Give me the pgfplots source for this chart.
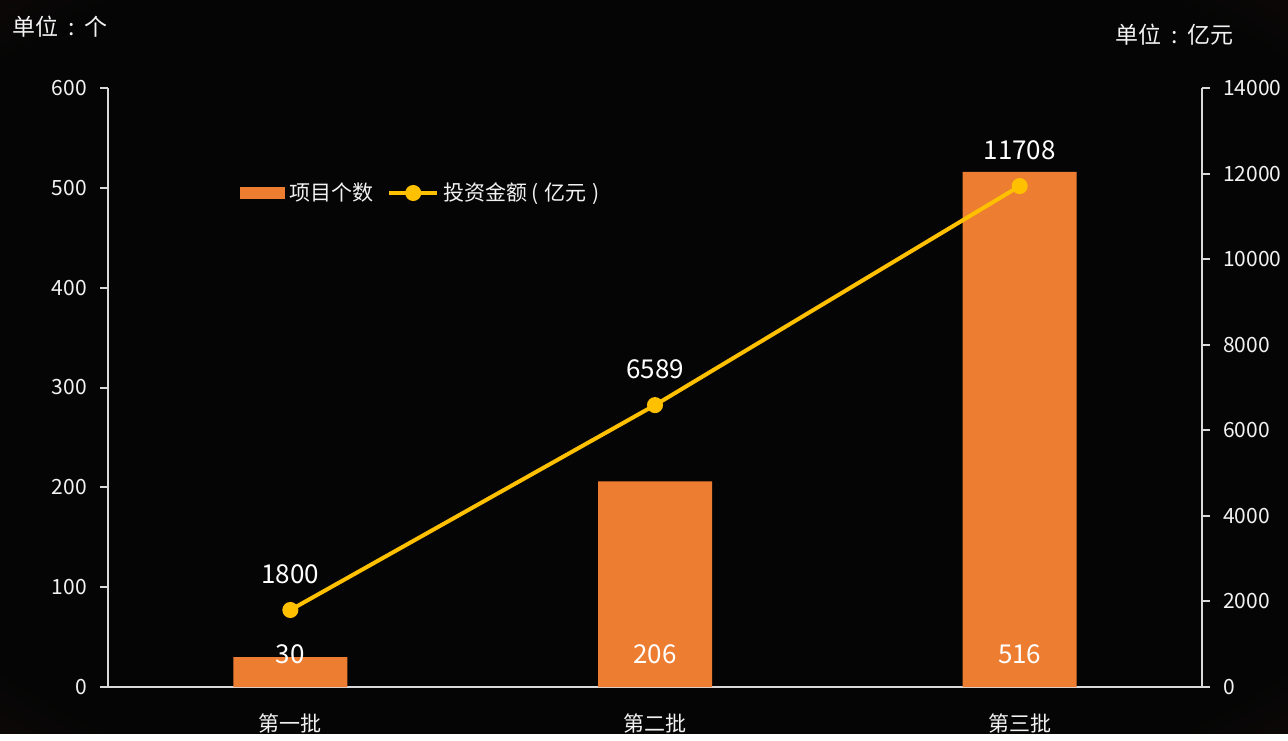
\documentclass[border=0pt]{standalone}
\usepackage{pgfplots}
\pgfplotsset{compat=1.18}
\usepackage{fontspec}
\setmainfont{Noto Sans CJK SC}
\definecolor{barc}{HTML}{ED7D31}
\definecolor{linec}{HTML}{FFC000}
\definecolor{axc}{HTML}{D9D9D9}
\definecolor{txt}{HTML}{F2F2F2}
\definecolor{bgin}{HTML}{050505}
\definecolor{bgout}{HTML}{361914}
\pgfdeclareradialshading{bgshade}{\pgfpoint{0bp}{0bp}}{color(0bp)=(bgin); color(32bp)=(bgin); color(58bp)=(bgout); color(72bp)=(bgout)}

\begin{document}
\begin{tikzpicture}
\shade[shading=bgshade] (0,0) rectangle (644pt,366.5pt);
\node[anchor=west, text=txt, font=\fontsize{11.5}{13}\selectfont, inner sep=0] at (6pt,353pt) {单位\hspace{5pt}:\hspace{5pt}个};
\node[anchor=east, text=txt, font=\fontsize{11.5}{13}\selectfont, inner sep=0] at (617pt,349pt) {单位\hspace{5pt}:\hspace{5pt}亿元};

% bars, left axis
\begin{axis}[
  at={(54pt,23pt)}, anchor=south west,
  scale only axis, width=547pt, height=299.5pt,
  xmin=-0.5, xmax=2.5, ymin=0, ymax=600,
  xtick={0,1,2}, xticklabels={第一批,第二批,第三批},
  ytick={0,100,...,600},
  axis x line*=bottom, axis y line*=left,
  axis line style={axc, line width=1pt, -},
  tick align=outside, major tick length=4pt,
  ytick style={axc, line width=1pt}, xtick style={draw=none},
  tick label style={text=txt, font=\fontsize{10.5}{12}\selectfont},
  /pgf/number format/assume math mode=true,
  yticklabel style={xshift=-3pt}, xticklabel style={yshift=-6pt},
  clip=false,
  ]
  \addplot[ybar, bar width=57pt, fill=barc, draw=none] coordinates {(0,30) (1,206) (2,516)};
  \addplot[draw=none, mark=none, nodes near coords, point meta=explicit symbolic,
    every node near coord/.append style={anchor=center, text=white, font=\fontsize{13}{15}\selectfont}]
    coordinates {(0,33) [30] (1,33) [206] (2,33) [516]};
\end{axis}

% line, right axis
\begin{axis}[
  at={(54pt,23pt)}, anchor=south west,
  scale only axis, width=547pt, height=299.5pt,
  xmin=-0.5, xmax=2.5, ymin=0, ymax=14000,
  ytick={0,2000,...,14000}, scaled y ticks=false,
  axis x line=none, axis y line*=right,
  axis line style={axc, line width=1pt, -},
  tick align=outside, major tick length=4pt,
  ytick style={axc, line width=1pt},
  tick label style={text=txt, font=\fontsize{10.5}{12}\selectfont},
  /pgf/number format/assume math mode=true,
  /pgf/number format/1000 sep={},
  yticklabel style={xshift=3pt},
  clip=false,
  legend columns=2,
  legend style={at={(0.1207,0.8247)}, anchor=west, draw=none, fill=none, inner sep=0pt,
    text=txt, font=\fontsize{10.5}{12}\selectfont,
    /tikz/every even column/.append style={column sep=5pt}},
  ]
  \addlegendimage{legend image code/.code={\fill[barc] (0pt,-2.8pt) rectangle (22pt,2.8pt);}}
  \addlegendentry{项目个数}
  \addplot[linec, line width=2pt, mark=*, mark size=3pt, mark options={fill=linec, draw=linec},
    nodes near coords, point meta=explicit symbolic,
    every node near coord/.append style={anchor=center, yshift=18pt, text=white, font=\fontsize{13}{15}\selectfont},
    legend image code/.code={\draw[linec, line width=2pt] (0pt,0pt) -- (24pt,0pt); \fill[linec] (12pt,0pt) circle (3pt);}]
    coordinates {(0,1800) [1800] (1,6589) [6589] (2,11708) [11708]};
  \addlegendentry{投资金额\hspace{2pt}(\hspace{3pt}亿元\hspace{3pt})}
\end{axis}
\end{tikzpicture}
\end{document}
